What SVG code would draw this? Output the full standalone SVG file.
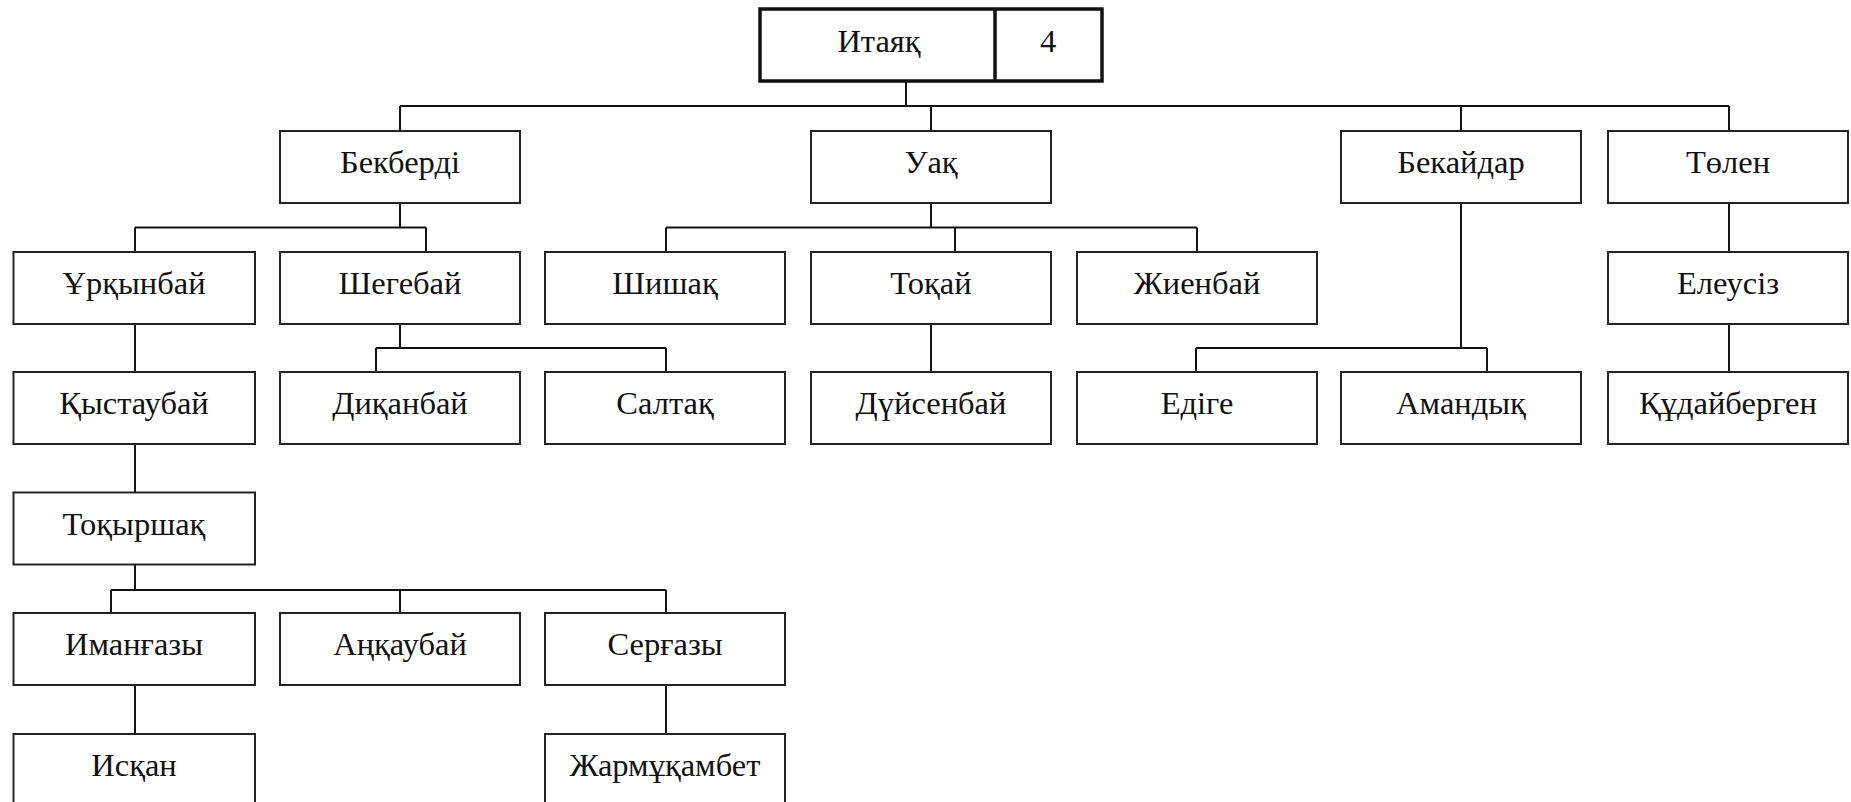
<svg xmlns="http://www.w3.org/2000/svg" width="1851" height="802" viewBox="0 0 1851 802">
<style>
.box{fill:#fff;stroke:#222;stroke-width:2}
.root{fill:#fff;stroke:#111;stroke-width:3.5}
.lbl{font-family:"Liberation Serif","DejaVu Serif",serif;font-size:32.5px;fill:#111;text-anchor:middle}
.con{fill:none;stroke:#111;stroke-width:2}
</style>
<rect width="1851" height="802" fill="#fff"/>
<g id="connectors" class="con">
<path d="M906 81V106M400 106H1729M400 106V131M931 106V131M1461 106V131M1729 106V131"/>
<path d="M400 203V227.5M135 227.5H426M135 227.5V252M426 227.5V252"/>
<path d="M135 324V372M135 444V492.5"/>
<path d="M400 324V348M376 348H666M376 348V372M666 348V372"/>
<path d="M931 203V227.5M666 227.5H1197M666 227.5V252M955 227.5V252M1197 227.5V252"/>
<path d="M931 324V372"/>
<path d="M1461 203V348M1196 348H1487M1196 348V372M1487 348V372"/>
<path d="M1729 203V252M1729 324V372"/>
<path d="M135 564.5V590M111 590H666M111 590V613M400 590V613M666 590V613"/>
<path d="M135 685V734M666 685V734"/>
</g>
<g id="n-root"><rect class="root" x="760" y="9" width="342" height="72"/><line x1="995" y1="9" x2="995" y2="81" stroke="#111" stroke-width="3.5"/><text class="lbl" x="879" y="51.5">Итаяқ</text><text class="lbl" x="1048" y="51.5">4</text></g>
<g id="n-bekberdi"><rect class="box" x="280" y="131" width="240" height="72"/><text class="lbl" x="400" y="173">Бекберді</text></g>
<g id="n-uaq"><rect class="box" x="811" y="131" width="240" height="72"/><text class="lbl" x="931" y="173">Уақ</text></g>
<g id="n-bekaidar"><rect class="box" x="1341" y="131" width="240" height="72"/><text class="lbl" x="1461" y="173">Бекайдар</text></g>
<g id="n-tolen"><rect class="box" x="1608" y="131" width="240" height="72"/><text class="lbl" x="1728" y="173">Төлен</text></g>
<g id="n-urqynbai"><rect class="box" x="13.5" y="252" width="241.5" height="72"/><text class="lbl" x="134" y="294">Ұрқынбай</text></g>
<g id="n-shegebai"><rect class="box" x="280" y="252" width="240" height="72"/><text class="lbl" x="400" y="294">Шегебай</text></g>
<g id="n-shishaq"><rect class="box" x="545" y="252" width="240" height="72"/><text class="lbl" x="665" y="294">Шишақ</text></g>
<g id="n-toqai"><rect class="box" x="811" y="252" width="240" height="72"/><text class="lbl" x="931" y="294">Тоқай</text></g>
<g id="n-zhienbai"><rect class="box" x="1077" y="252" width="240" height="72"/><text class="lbl" x="1197" y="294">Жиенбай</text></g>
<g id="n-eleusiz"><rect class="box" x="1608" y="252" width="240" height="72"/><text class="lbl" x="1728" y="294">Елеусіз</text></g>
<g id="n-qystaubai"><rect class="box" x="13.5" y="372" width="241.5" height="72"/><text class="lbl" x="134" y="414">Қыстаубай</text></g>
<g id="n-diqanbai"><rect class="box" x="280" y="372" width="240" height="72"/><text class="lbl" x="400" y="414">Диқанбай</text></g>
<g id="n-saltaq"><rect class="box" x="545" y="372" width="240" height="72"/><text class="lbl" x="665" y="414">Салтақ</text></g>
<g id="n-duisenbai"><rect class="box" x="811" y="372" width="240" height="72"/><text class="lbl" x="931" y="414">Дүйсенбай</text></g>
<g id="n-edige"><rect class="box" x="1077" y="372" width="240" height="72"/><text class="lbl" x="1197" y="414">Едіге</text></g>
<g id="n-amandyq"><rect class="box" x="1341" y="372" width="240" height="72"/><text class="lbl" x="1461" y="414">Амандық</text></g>
<g id="n-qudaibergen"><rect class="box" x="1608" y="372" width="240" height="72"/><text class="lbl" x="1728" y="414">Құдайберген</text></g>
<g id="n-toqyrshaq"><rect class="box" x="13.5" y="492.5" width="241.5" height="72"/><text class="lbl" x="134" y="534.5">Тоқыршақ</text></g>
<g id="n-imangazy"><rect class="box" x="13.5" y="613" width="241.5" height="72"/><text class="lbl" x="134" y="655">Иманғазы</text></g>
<g id="n-anqaubai"><rect class="box" x="280" y="613" width="240" height="72"/><text class="lbl" x="400" y="655">Аңқаубай</text></g>
<g id="n-sergazy"><rect class="box" x="545" y="613" width="240" height="72"/><text class="lbl" x="665" y="655">Серғазы</text></g>
<g id="n-isqan"><rect class="box" x="13.5" y="734" width="241.5" height="72"/><text class="lbl" x="134" y="776">Исқан</text></g>
<g id="n-zharmuqambet"><rect class="box" x="545" y="734" width="240" height="72"/><text class="lbl" x="665" y="776">Жармұқамбет</text></g>
</svg>
